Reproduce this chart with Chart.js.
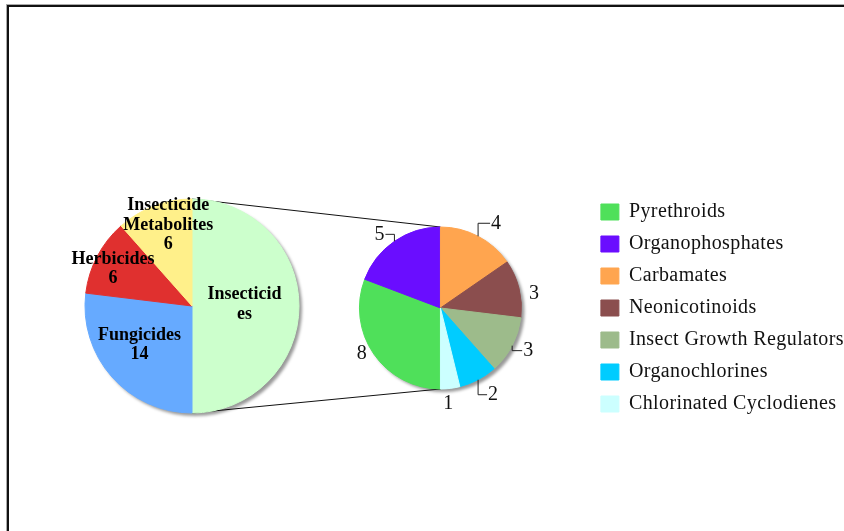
<!DOCTYPE html>
<html>
<head>
<meta charset="utf-8">
<script src="https://cdn.jsdelivr.net/npm/chart.js@4.4.0/dist/chart.umd.min.js"></script>
<style>
  html, body { margin: 0; padding: 0; background: #fff; }
  #wrap { position: relative; width: 844px; height: 531px; overflow: hidden; }
  #frame { position: absolute; left: 7px; top: 5px; width: 900px; height: 600px;
           border-left: 2px solid #111; border-top: 2px solid #111; box-shadow: -1px -1px 0 #aaa; }
  canvas { position: absolute; left: 0; top: 0; }
</style>
</head>
<body>
<div id="wrap">
  <div id="frame"></div>
  <canvas id="subChart" width="844" height="531"></canvas>
  <canvas id="mainChart" width="844" height="531"></canvas>
</div>
<script>
// dados do gráfico principal
var mainCategories = ['Insecticides', 'Fungicides', 'Herbicides', 'Insecticide Metabolites'];
var mainValues = [26, 14, 6, 6];
var mainLabelLines = [['Insecticid', 'es'], ['Fungicides'], ['Herbicides'], ['Insecticide', 'Metabolites']];
var mainColors = ['#CCFFCC', '#66AAFF', '#E0302F', '#FFF08A'];

// dados do gráfico secundário (inseticidas)
var subCategories = ['Pyrethroids', 'Organophosphates', 'Carbamates', 'Neonicotinoids',
                     'Insect Growth Regulators', 'Organochlorines', 'Chlorinated Cyclodienes'];
var subValues = [8, 5, 4, 3, 3, 2, 1];
var subColors = ['#4FE05A', '#6A0DFF', '#FFA54F', '#8B4E4E', '#9DBB8B', '#00CCFF', '#CCFFFF'];

// sombra atrás da pizza
var pieShadow = {
    id: 'pieShadow',
    beforeDatasetsDraw: function(chart) {
        var arc = chart.getDatasetMeta(0).data[0];
        var ctx = chart.ctx;
        ctx.save();
        ctx.fillStyle = 'rgba(0,0,0,0.4)';
        ctx.filter = 'blur(1.5px)';
        ctx.beginPath();
        ctx.arc(arc.x + 3, arc.y + 3, arc.outerRadius, 0, Math.PI * 2);
        ctx.fill();
        ctx.restore();
    }
};

// espaçamento de letras da legenda (texto mais largo, como no original)
var wideText = {
    id: 'wideText',
    beforeUpdate: function(chart) { chart.ctx.letterSpacing = '0.4px'; },
    beforeDraw: function(chart) { chart.ctx.letterSpacing = '0.4px'; }
};

// rótulos do gráfico principal
var mainLabels = {
    id: 'mainLabels',
    afterDatasetsDraw: function(chart, args, opts) {
        var meta = chart.getDatasetMeta(0);
        var ctx = chart.ctx;
        ctx.save();
        ctx.font = 'bold 18px "Liberation Serif"';
        ctx.textAlign = 'center';
        ctx.textBaseline = 'middle';
        ctx.fillStyle = '#000';
        meta.data.forEach(function(arc, i) {
            var mid = (arc.startAngle + arc.endAngle) / 2 + opts.turn[i] * Math.PI / 180;
            var d = arc.outerRadius * opts.dist[i];
            var x = arc.x + Math.cos(mid) * d;
            var y = arc.y + Math.sin(mid) * d;
            var lines = mainLabelLines[i].slice();
            if (opts.showValue[i]) lines.push(String(mainValues[i]));
            lines.forEach(function(t, k) {
                ctx.fillText(t, x, y + (k - (lines.length - 1) / 2) * opts.lineHeight);
            });
        });
        ctx.restore();
    }
};

// rótulos externos + linhas guia do gráfico secundário
var subLabels = {
    id: 'subLabels',
    afterDatasetsDraw: function(chart, args, opts) {
        var meta = chart.getDatasetMeta(0);
        var ctx = chart.ctx;
        ctx.save();
        ctx.letterSpacing = '0px';
        ctx.font = '20px "Liberation Serif"';
        ctx.textAlign = 'center';
        ctx.textBaseline = 'middle';
        ctx.fillStyle = '#111';
        ctx.strokeStyle = '#222';
        ctx.lineWidth = 1;
        meta.data.forEach(function(arc, i) {
            var mid = (arc.startAngle + arc.endAngle) / 2;
            var ex = arc.x + Math.cos(mid) * arc.outerRadius;
            var ey = arc.y + Math.sin(mid) * arc.outerRadius;
            var tx = ex + opts.offsets[i][0];
            var ty = ey + opts.offsets[i][1];
            if (opts.leader[i]) {
                var side = tx > ex ? 1 : -1;
                ctx.beginPath();
                ctx.moveTo(ex, ey);
                ctx.lineTo(ex, ty);
                ctx.lineTo(tx - side * 6, ty);
                ctx.stroke();
            }
            ctx.fillText(String(subValues[i]), tx, ty);
        });
        ctx.restore();
    }
};

// linhas que ligam as duas pizzas
var connectors = {
    id: 'connectors',
    beforeDatasetsDraw: function(chart) {
        var m = mainChart.getDatasetMeta(0).data[0];
        var s = chart.getDatasetMeta(0).data[0];
        var ctx = chart.ctx;
        ctx.save();
        ctx.strokeStyle = '#111';
        ctx.lineWidth = 1;
        ctx.beginPath();
        ctx.moveTo(m.x + Math.cos(m.startAngle) * m.outerRadius, m.y + Math.sin(m.startAngle) * m.outerRadius);
        ctx.lineTo(s.x, s.y - s.outerRadius);
        ctx.moveTo(m.x + Math.cos(m.endAngle) * m.outerRadius, m.y + Math.sin(m.endAngle) * m.outerRadius);
        ctx.lineTo(s.x, s.y + s.outerRadius);
        ctx.stroke();
        ctx.restore();
    }
};

var mainChart = new Chart(document.getElementById('mainChart'), {
    type: 'pie',
    data: {
        labels: mainCategories,
        datasets: [{
            data: mainValues,
            backgroundColor: mainColors,
            borderColor: mainColors,
            borderWidth: 1
        }]
    },
    options: {
        responsive: false,
        animation: false,
        radius: 107,
        layout: { padding: { left: 80, right: 540, top: 194, bottom: 113 } },
        plugins: {
            legend: { display: false },
            tooltip: { enabled: false },
            mainLabels: {
                dist: [0.49, 0.61, 0.815, 0.79],
                turn: [-2, 5, -2.5, 4.5],
                showValue: [false, true, true, true],
                lineHeight: 19.5
            }
        }
    },
    plugins: [pieShadow, mainLabels]
});

var subChart = new Chart(document.getElementById('subChart'), {
    type: 'pie',
    data: {
        labels: subCategories,
        datasets: [{
            data: subValues,
            backgroundColor: subColors,
            borderColor: subColors,
            borderWidth: 1
        }]
    },
    options: {
        responsive: false,
        animation: false,
        rotation: 180,
        radius: 81,
        layout: { padding: { left: 292, right: -10, top: 182, bottom: 97 } },
        plugins: {
            legend: {
                position: 'right',
                labels: {
                    font: { family: 'Liberation Serif', size: 20 },
                    color: '#111',
                    boxWidth: 18,
                    boxHeight: 16,
                    padding: 12
                }
            },
            tooltip: { enabled: false },
            subLabels: {
                offsets: [[-12, 0], [-15, -7], [18, -13], [15, 5], [16, 5], [15, 15], [-2, 15]],
                leader: [false, true, true, false, true, true, false]
            }
        }
    },
    plugins: [wideText, pieShadow, connectors, subLabels]
});
</script>
</body>
</html>
